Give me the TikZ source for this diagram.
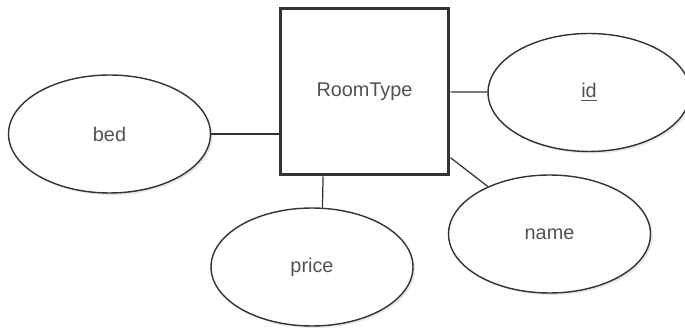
\documentclass[tikz,border=0pt]{standalone}
\usepackage{fontspec}
\setmainfont{Liberation Sans}
\usetikzlibrary{shapes.geometric,shadows}

\begin{document}
\begin{tikzpicture}[x=0.02cm,y=-0.02cm,-,auto,
  font=\fontsize{11.3}{13}\selectfont,
  entity node/.style={rectangle,draw=black!80,line width=1.7pt,fill=white,
    minimum width=3.38cm,minimum height=3.34cm,inner sep=0pt,text=black!68},
  attr node/.style={ellipse,draw=black!80,line width=0.8pt,fill=white,
    minimum width=4.04cm,minimum height=2.36cm,inner sep=0pt,text=black!68,
    drop shadow={opacity=0.18,shadow xshift=1.2pt,shadow yshift=-1.2pt}}]

  \useasboundingbox (0,0) rectangle (685,330);

  \node[entity node] (room) at (364.5,91.5) {RoomType};
  \node[attr node] (bed) at (109.5,134) {bed};
  \node[attr node] (id) at (589,92.5) {\underline{id}};
  \node[attr node] (price) at (312,267) {price};
  \node[attr node] (name) at (549.5,234) {name};

  \path[draw=black!80,line width=0.7pt]
    (bed.east) edge (bed.east -| room.west)
    (room) edge (id)
    (price.80) edge (room.244)
    (room) edge (name);

\end{tikzpicture}
\end{document}
